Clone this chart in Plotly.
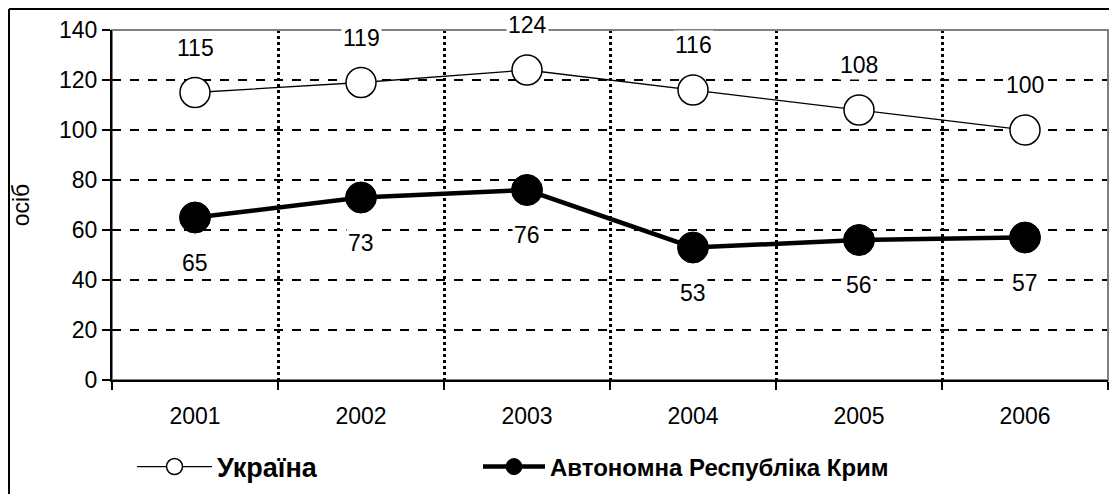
import plotly.graph_objects as go

years = [2001, 2002, 2003, 2004, 2005, 2006]
ukraine = [115, 119, 124, 116, 108, 100]
crimea = [65, 73, 76, 53, 56, 57]
name_ukraine = "Україна"
name_crimea = "Автономна Республіка Крим"
y_title = "осіб"
y_ticks = [0, 20, 40, 60, 80, 100, 120, 140]

FONT = "Liberation Sans, Arial, sans-serif"
TICK_SIZE = 23

# figure is placed by the page with an 8px body margin
W, H = 1101, 486
PL, PR, PT, PB = 104, 1100, 22, 372   # plot area in figure pixels
PW, PH = PR - PL, PB - PT

fig = go.Figure()
fig.add_trace(go.Scatter(
    x=years, y=ukraine, name=name_ukraine, mode="lines+markers",
    line=dict(color="black", width=1.3),
    marker=dict(symbol="circle", size=30, color="white", line=dict(color="black", width=1.5)),
    cliponaxis=False, legend="legend",
))
fig.add_trace(go.Scatter(
    x=years, y=crimea, name=name_crimea, mode="lines+markers",
    line=dict(color="black", width=4.5),
    marker=dict(symbol="circle", size=31, color="black", line=dict(color="black", width=1)),
    cliponaxis=False, legend="legend2",
))

for xv, yv in zip(years, ukraine):
    fig.add_annotation(x=xv, y=yv, text=str(yv), showarrow=False, yshift=45,
                       bgcolor="white", font=dict(size=TICK_SIZE, color="black", family=FONT))
for xv, yv in zip(years, crimea):
    fig.add_annotation(x=xv, y=yv, text=str(yv), showarrow=False, yshift=-45,
                       bgcolor="white", font=dict(size=TICK_SIZE, color="black", family=FONT))

bounds = [y - 0.5 for y in years] + [years[-1] + 0.5]

fig.update_xaxes(
    range=[years[0] - 0.5, years[-1] + 0.5],
    tickvals=years, ticktext=[str(y) for y in years],
    ticks="", showgrid=False, zeroline=False, automargin=False,
    showline=True, linecolor="black", linewidth=2,
    tickfont=dict(size=TICK_SIZE, color="black", family=FONT),
    minor=dict(tickvals=bounds, ticks="outside", ticklen=8, tickwidth=2, tickcolor="black",
               showgrid=True, gridcolor="black", gridwidth=2.5, griddash="dot"),
    ticklabelstandoff=14,
)
fig.update_yaxes(
    range=[0, 140], tickvals=y_ticks,
    ticks="outside", ticklen=8, tickwidth=2, tickcolor="black",
    showgrid=False, zeroline=False, automargin=False,
    showline=True, linecolor="black", linewidth=2,
    tickfont=dict(size=TICK_SIZE, color="black", family=FONT),
    minor=dict(tickvals=[20, 40, 60, 80, 100, 120], ticks="",
               showgrid=True, gridcolor="black", gridwidth=1.5, griddash="dash"),
    title=dict(text=y_title, font=dict(size=TICK_SIZE, color="black", family=FONT), standoff=33),
)

fig.add_shape(type="rect", xref="paper", yref="paper", x0=0, y0=0, x1=1, y1=1,
              line=dict(color="#808080", width=2), layer="below")
fig.add_shape(type="line", xref="paper", yref="paper", x0=1, y0=0, x1=1, y1=1,
              line=dict(color="#808080", width=2), layer="above")
fig.add_shape(type="line", xref="paper", yref="paper", x0=0, y0=1, x1=1, y1=1,
              line=dict(color="#808080", width=2), layer="above")
# outer chart border (top and left visible; right/bottom fall outside the frame)
fx = lambda px: (px - PL) / PW
fy = lambda py: (PB - py) / PH
fig.add_shape(type="line", xref="paper", yref="paper",
              x0=fx(1), y0=fy(1), x1=fx(W), y1=fy(1), line=dict(color="black", width=2))
fig.add_shape(type="line", xref="paper", yref="paper",
              x0=fx(1), y0=fy(1), x1=fx(1), y1=fy(H), line=dict(color="black", width=2))

legend_common = dict(orientation="h", yanchor="middle", xanchor="left",
                     itemsizing="trace", bgcolor="rgba(0,0,0,0)")

fig.update_layout(
    width=W, height=H,
    margin=dict(l=PL, r=W - PR, t=PT, b=H - PB),
    paper_bgcolor="white", plot_bgcolor="white",
    font=dict(family=FONT, color="black"),
    showlegend=True,
    legend=dict(x=fx(124), y=fy(459), itemwidth=75,
                font=dict(size=27, color="black", family=FONT, weight="bold"), **legend_common),
    legend2=dict(x=fx(470), y=fy(459), itemwidth=62,
                 font=dict(size=24, color="black", family=FONT, weight="bold"), **legend_common),
)

fig.write_html("out.html")
